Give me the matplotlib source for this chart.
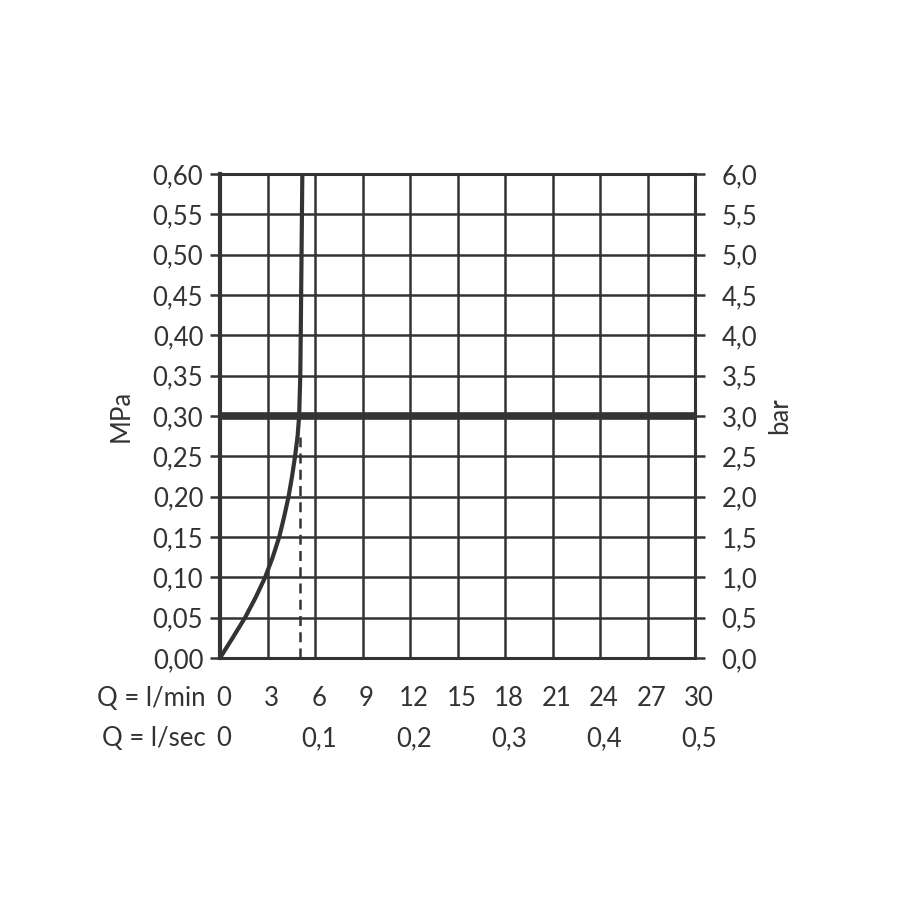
import matplotlib
matplotlib.use("Agg")
import matplotlib.pyplot as plt
from matplotlib.transforms import blended_transform_factory

plt.rcParams['font.family'] = ['Lato', 'DejaVu Sans']

# Data
flow_lmin = [0, 0.8, 1.58, 2.25, 2.85, 3.33, 3.74, 4.05, 4.33, 4.55, 4.74, 4.9, 5.0, 5.07, 5.1, 5.15, 5.2]
pressure_mpa = [0, 0.025, 0.05, 0.075, 0.10, 0.125, 0.15, 0.175, 0.20, 0.225, 0.25, 0.275, 0.30, 0.35, 0.40, 0.50, 0.60]
ref_pressure = 0.30
dash_flow = 5.05
dash_top = 0.274

x_ticks = [0, 3, 6, 9, 12, 15, 18, 21, 24, 27, 30]
y_ticks = [0.00, 0.05, 0.10, 0.15, 0.20, 0.25, 0.30, 0.35, 0.40, 0.45, 0.50, 0.55, 0.60]
y_labels = ["0,00", "0,05", "0,10", "0,15", "0,20", "0,25", "0,30", "0,35", "0,40", "0,45", "0,50", "0,55", "0,60"]
bar_labels = ["0,0", "0,5", "1,0", "1,5", "2,0", "2,5", "3,0", "3,5", "4,0", "4,5", "5,0", "5,5", "6,0"]
sec_positions = [0, 6, 12, 18, 24, 30]
sec_labels = ["0", "0,1", "0,2", "0,3", "0,4", "0,5"]

C = "#333333"
FS = 18.5
fig = plt.figure(figsize=(9.14, 9.14), dpi=100)
ax = fig.add_axes([220/914, 1-658/914, 475/914, 484/914])
ax.set_xlim(0, 30)
ax.set_ylim(0, 0.60)

for x in x_ticks[1:-1]:
    ax.axvline(x, color=C, lw=1.8, zorder=1)
for y in y_ticks[1:-1]:
    ax.axhline(y, color=C, lw=1.8, zorder=1)

ax.axhline(ref_pressure, color=C, lw=5.5, zorder=3)
ax.plot(flow_lmin, pressure_mpa, color=C, lw=3, zorder=4, solid_capstyle='butt')
ax.plot([dash_flow, dash_flow], [0, dash_top], color=C, lw=1.8, ls=(0, (4, 2.5)), zorder=2)

for s in ['top', 'bottom', 'right']:
    ax.spines[s].set_linewidth(2.2)
    ax.spines[s].set_color(C)
ax.spines['left'].set_linewidth(3)
ax.spines['left'].set_color(C)

ax.set_yticks(y_ticks)
ax.set_yticklabels(y_labels, fontsize=FS, color=C)
ax.tick_params(axis='y', direction='out', length=7, width=1.8, color=C, pad=5)
ax.set_xticks([])

ax2 = ax.twinx()
ax2.set_ylim(0, 0.60)
ax2.set_yticks(y_ticks)
ax2.set_yticklabels(bar_labels, fontsize=FS, color=C)
ax2.tick_params(axis='y', direction='out', length=7, width=1.8, color=C, pad=12)
for s in ax2.spines.values():
    s.set_visible(False)

ax.set_ylabel("MPa", fontsize=FS, color=C, labelpad=14)
ax2.set_ylabel("bar", fontsize=FS, color=C, labelpad=7)

tr = blended_transform_factory(ax.transData, fig.transFigure)
y1 = 1 - 698/914
y2 = 1 - 739/914
for x in x_ticks:
    ax.text(x + 0.25, y1, str(x), transform=tr, ha='center', va='center', fontsize=FS, color=C)
for x, l in zip(sec_positions, sec_labels):
    ax.text(x + 0.25, y2, l, transform=tr, ha='center', va='center', fontsize=FS, color=C)
fig.text(206/914, y1, "Q = l/min", ha='right', va='center', fontsize=FS, color=C)
fig.text(206/914, y2, "Q = l/sec", ha='right', va='center', fontsize=FS, color=C)

fig.savefig("out.png", dpi=100, facecolor='white')
